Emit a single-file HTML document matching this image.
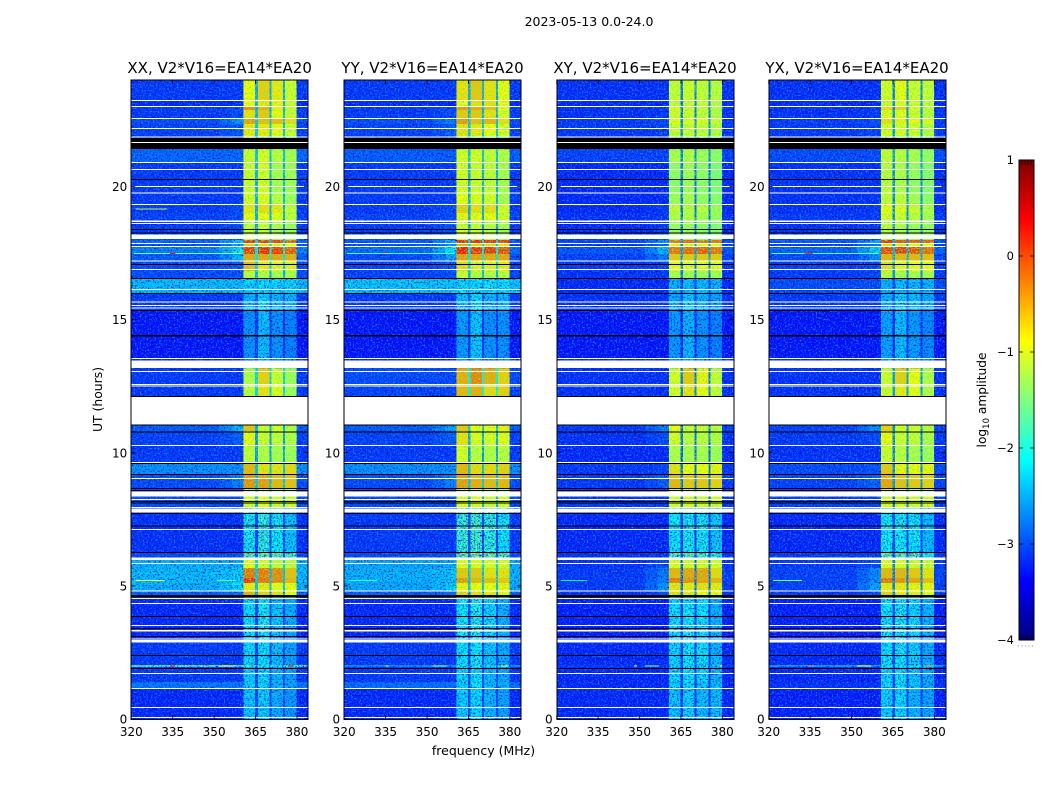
<!DOCTYPE html>
<html lang="en">
<head>
<meta charset="utf-8">
<title>2023-05-13 0.0-24.0</title>
<style>
html,body{margin:0;padding:0;background:#fff;}
#figure{display:block;width:1050px;height:800px;font-family:"DejaVu Sans","Liberation Sans",sans-serif;}
</style>
</head>
<body>
<svg id="figure" xmlns="http://www.w3.org/2000/svg" width="1050" height="800" viewBox="0 0 1050 800">
<defs>
<filter id="speckle" x="0" y="0" width="100%" height="100%" color-interpolation-filters="sRGB">
<feTurbulence type="fractalNoise" baseFrequency="0.62" numOctaves="2" seed="4" result="n"/>
<feColorMatrix in="n" type="matrix" values="0 0 0 0 0.12  0 0 0 0 0.55  0 0 0 0 1  3.4 0 0 0 -1.7" result="light"/>
<feColorMatrix in="n" type="matrix" values="0 0 0 0 0  0 0 0 0 0  0 0 0 0 0.72  0 3.4 0 0 -1.7" result="dark"/>
<feMerge><feMergeNode in="dark"/><feMergeNode in="light"/></feMerge>
</filter>
<filter id="speckle-soft" x="0" y="0" width="100%" height="100%" color-interpolation-filters="sRGB">
<feTurbulence type="fractalNoise" baseFrequency="0.62" numOctaves="2" seed="9"/>
<feColorMatrix type="matrix" values="0 0 0 0 0.4  0 0 0 0 0.95  0 0 0 0 0.35  3 0 0 0 -1.35"/>
</filter>
</defs>
<text x="589" y="26" font-size="12.5" text-anchor="middle" fill="#000">2023-05-13 0.0-24.0</text>
<text x="483.5" y="755" font-size="12.5" text-anchor="middle" fill="#000">frequency (MHz)</text>
<text transform="translate(102,399.5) rotate(-90)" font-size="12.4" text-anchor="middle" fill="#000">UT (hours)</text>
<text transform="translate(986,400) rotate(-90)" font-size="12.2" text-anchor="middle" fill="#000">log<tspan font-size="8.5" dy="3">10</tspan><tspan dy="-3"> amplitude</tspan></text>
<g id="panels"></g>
<g id="colorbar"></g>
</svg>
<script>
// ---- Chart data (UT hours, MHz, log10 amplitude) ----
const panelTitles = ["XX, V2*V16=EA14*EA20","YY, V2*V16=EA14*EA20","XY, V2*V16=EA14*EA20","YX, V2*V16=EA14*EA20"];
const xTickLabels = [320,335,350,365,380];
const yTickLabels = [0,5,10,15,20];
const colorTickLabels = [-4,-3,-2,-1,0,1];
const freqEdges = [320,352,356.5,360.6,364.8,365.8,370,370.7,375,375.7,379.9,384];
const bandTops = [24,23.23,23,22.87,22.55,22.34,21.85,21.4,20.92,19.76,19.3,19,18.66,18.21,17.99,17.87,17.72,17.46,17.2,16.82,16.56,16,15.36,13.56,13.18,12.58,12.13,11.04,10.81,10.29,9.61,9.2,8.67,7.92,6.27,6.07,5.67,5.29,5.11,4.81,4.54,3.12,2.03,1.95,1.39,1.13];
// each row: background, shoulder, window 1-4, window gap
const valuesXX = [
[-3.1,-3.1,-.85,-.6,-.75,-1.05,-2.6],[-3.2,-3.2,-.9,-.75,-.8,-1.05,-2.6],[-3.1,-3,-.25,-.45,-.8,-1.05,-2.6],[-3.1,-3,-.7,-.55,-.85,-1.05,-2.6],
[-3,-2.6,-.35,-.5,-.5,-.7,-2.5],[-3.05,-2.9,-.75,-.75,-.85,-1.05,-2.5],[-3.4,-3.4,-1.6,-1.7,-1.8,-1.9,-3],[-2.85,-2.85,-1.05,-1,-1.15,-1.25,-2.5],
[-3.1,-3.1,-1.05,-1,-1.25,-1.3,-2.6],[-3.1,-3.1,-1,-.95,-1.15,-1.3,-2.6],[-3.1,-3,-.75,-.7,-.75,-1.1,-2.6],[-3.05,-3,-.85,-.85,-.9,-1.1,-2.6],
[-3.1,-3,-1.1,-1.1,-1.2,-1.3,-2.7],[-3,-2.8,-1.1,-1.1,-1.2,-1.3,-2.7],[-2.8,-2.3,.2,.2,.15,.05,-2.4],[-3,-2.5,-.6,-.7,-.8,-.9,-2.4],
[-2.7,-2.1,.15,.25,.15,0,-2.3],[-2.9,-2.4,-.35,-.35,-.35,-.4,-2.3],[-3,-2.9,-.5,-.75,-.8,-.8,-2.4],[-3,-3,-1.15,-1.2,-1.25,-1.25,-2.6],
[-2.35,-2.35,-2.2,-2.15,-2.2,-2.2,-2.4],[-3.1,-3.1,-2.4,-2.2,-2.4,-2.4,-2.9],[-3.3,-3.3,-2.6,-2.35,-2.6,-2.7,-3.1],[-3.2,-3.2,-2.6,-2.4,-2.6,-2.7,-3.1],
[-3.1,-3.1,-1.2,-.6,-1.05,-1.3,-2.4],[-3.1,-3.1,-1.15,-.7,-.95,-1.3,-2.4],[-3.1,-3.1,-1.2,-.8,-1,-1.3,-2.4],[-2.9,-2.4,-.5,-1.1,-1,-1.2,-2.6],
[-3.05,-2.9,-.85,-1.05,-1.1,-1.2,-2.7],[-3.1,-3.1,-1.1,-1.2,-1.25,-1.3,-2.7],[-2.6,-2.6,-.45,-.7,-.7,-.65,-2.5],[-3,-2.7,-.25,-.3,-.45,-.5,-2.5],
[-3,-3,-1,-.9,-1,-1,-2.6],[-3.15,-3.15,-2.05,-1.9,-2.1,-2.3,-3],[-3,-3,-1.7,-1.6,-1.7,-1.8,-2.8],[-2.4,-2.4,-.9,-1,-1.1,-1.1,-2.4],
[-2.35,-2.25,-.1,-.15,-.2,-.5,-2.5],[-2.35,-2.25,.2,-.1,-.2,-.45,-2.5],[-2.4,-2.2,-.75,-.75,-.9,-.85,-2.5],[-2.9,-2.8,-.4,-.6,-.7,-.85,-2.8],
[-3.2,-3.2,-2.15,-2.05,-2.3,-2.45,-3],[-3.1,-3.1,-2.2,-2.15,-2.35,-2.5,-3],[-1.7,-1.7,-1.8,-2,-2,-1.7,-2],[-3.1,-3.1,-2.25,-2.2,-2.4,-2.5,-3],
[-2.75,-2.75,-2.25,-2.2,-2.4,-2.5,-3],[-3.2,-3.2,-2.3,-2.25,-2.45,-2.55,-3]];
const valuesYY = [
[-3.1,-3.1,-.7,-.55,-.7,-.85,-2.6],[-3.2,-3.2,-.85,-.7,-.7,-.9,-2.6],[-3.1,-3,-.3,-.4,-.5,-.9,-2.6],[-3.1,-3,-.55,-.55,-.7,-1,-2.6],
[-3,-2.7,-.3,-.5,-.45,-.7,-2.5],[-3.05,-2.9,-.7,-.75,-.85,-1,-2.5],[-3.4,-3.4,-1.6,-1.7,-1.8,-1.9,-3],[-2.9,-2.9,-1,-1,-1.1,-1.2,-2.5],
[-3.1,-3.1,-1,-1.05,-1.1,-1.25,-2.6],[-3.1,-3.1,-.9,-.95,-1,-1.25,-2.6],[-3.1,-3,-.6,-.7,-.7,-1,-2.6],[-3.05,-3,-.8,-.85,-.85,-1.05,-2.6],
[-3.1,-3,-1,-1.1,-1.15,-1.25,-2.7],[-3,-2.8,-1,-1.1,-1.15,-1.25,-2.7],[-2.9,-2.4,.3,.25,.2,.2,-2.4],[-3,-2.6,-.4,-.6,-.65,-.7,-2.4],
[-2.8,-2.15,.3,.2,.2,.1,-2.3],[-3,-2.5,-.3,-.35,-.35,-.35,-2.3],[-3.05,-2.9,-.65,-.8,-.8,-.75,-2.4],[-3.05,-3,-1.05,-1.2,-1.2,-1.15,-2.6],
[-2.3,-2.3,-2.15,-2.15,-2.15,-2.15,-2.4],[-3.1,-3.1,-2.35,-2.2,-2.4,-2.4,-2.9],[-3.3,-3.3,-2.55,-2.3,-2.6,-2.6,-3.1],[-3.2,-3.2,-2.55,-2.4,-2.6,-2.6,-3.1],
[-3,-3,-.4,-.2,-.4,-.6,-2.2],[-3.05,-3.05,-.45,-.4,-.65,-.6,-2.2],[-3.1,-3.1,-.6,-.5,-.7,-.7,-2.3],[-2.9,-2.5,-.55,-.9,-.9,-.8,-2.5],
[-3.05,-2.9,-.7,-.95,-1,-.95,-2.6],[-3.1,-3.1,-1,-1.15,-1.2,-1.15,-2.7],[-2.6,-2.6,-.45,-.65,-.65,-.6,-2.5],[-3,-2.7,-.3,-.4,-.45,-.45,-2.5],
[-3,-3,-.95,-.9,-1,-1,-2.6],[-3.1,-3.1,-1.85,-1.8,-1.9,-2.1,-3],[-3,-3,-1.6,-1.5,-1.6,-1.7,-2.8],[-2.45,-2.45,-.9,-.95,-1,-1,-2.4],
[-2.4,-2.3,-.55,-.55,-.7,-.7,-2.5],[-2.4,-2.3,-.3,-.45,-.5,-.55,-2.5],[-2.45,-2.25,-.8,-.85,-.85,-.8,-2.5],[-2.9,-2.8,-.6,-.7,-.75,-.85,-2.8],
[-3.2,-3.2,-2.1,-2,-2.2,-2.4,-3],[-3.1,-3.1,-2.15,-2.1,-2.3,-2.45,-3],[-2.6,-2.6,-1.9,-2,-2.1,-2.1,-2.6],[-3.1,-3.1,-2.2,-2.15,-2.35,-2.45,-3],
[-2.8,-2.8,-2.2,-2.15,-2.35,-2.45,-3],[-3.2,-3.2,-2.25,-2.2,-2.4,-2.5,-3]];
const valuesXY = [
[-3.15,-3.15,-1.1,-1.05,-1.1,-1.15,-2.9],[-3.2,-3.2,-1.1,-1.1,-1.1,-1.2,-2.9],[-3.15,-3.1,-.95,-1.05,-1.05,-1.15,-2.9],[-3.15,-3.1,-1.05,-1.05,-1.1,-1.2,-2.9],
[-3.1,-3,-.9,-.95,-.95,-1.05,-2.8],[-3.1,-3.05,-1.1,-1.1,-1.1,-1.2,-2.8],[-3.4,-3.4,-1.7,-1.7,-1.8,-1.9,-3.2],[-3.05,-3.05,-1.25,-1.2,-1.3,-1.4,-2.8],
[-3.2,-3.2,-1.4,-1.3,-1.4,-1.5,-2.9],[-3.2,-3.2,-1.3,-1.25,-1.35,-1.45,-2.9],[-3.2,-3.1,-1.1,-1.15,-1.15,-1.3,-2.9],[-3.15,-3.1,-1.2,-1.2,-1.25,-1.35,-2.9],
[-3.2,-3.1,-1.35,-1.3,-1.4,-1.45,-2.9],[-3.1,-3,-1.35,-1.3,-1.4,-1.45,-2.9],[-3,-2.6,-.1,-.05,-.05,-.1,-2.8],[-3.1,-2.8,-.8,-.85,-.85,-.9,-2.8],
[-2.95,-2.4,-.1,-.05,0,-.1,-2.7],[-3.05,-2.7,-.55,-.55,-.55,-.55,-2.7],[-3.1,-3.05,-.85,-.95,-.9,-.9,-2.8],[-3.15,-3.1,-1.25,-1.3,-1.3,-1.3,-2.9],
[-3.2,-3.2,-2.4,-2.35,-2.35,-2.4,-3],[-3.15,-3.15,-2.45,-2.3,-2.4,-2.5,-3],[-3.3,-3.3,-2.55,-2.4,-2.6,-2.7,-3.2],[-3.2,-3.2,-2.55,-2.4,-2.6,-2.7,-3.2],
[-3.15,-3.15,-1,-.55,-.8,-1.1,-2.9],[-3.15,-3.15,-1,-.7,-.85,-1.1,-2.9],[-3.1,-3.1,-1,-.8,-.9,-1.1,-2.9],[-3.1,-2.7,-.85,-1.1,-1.05,-1.15,-2.9],
[-3.15,-3,-1,-1.15,-1.15,-1.2,-2.9],[-3.2,-3.2,-1.2,-1.25,-1.25,-1.3,-3],[-3.1,-3.05,-.7,-.85,-.85,-.8,-2.9],[-3.1,-2.9,-.45,-.55,-.55,-.6,-2.9],
[-3.1,-3.1,-1,-.95,-1,-1,-3],[-3.2,-3.2,-2.1,-2.05,-2.05,-2.3,-3.1],[-3.15,-3.15,-1.75,-1.7,-1.75,-2,-3],[-3.15,-3,-.95,-1,-1,-1,-3],
[-3.1,-2.75,-.45,-.35,-.35,-.65,-3],[-3.1,-2.7,-.15,-.25,-.35,-.45,-3],[-3.1,-2.6,-.7,-.75,-.7,-.75,-3],[-3.15,-3,-.7,-.75,-.85,-.9,-3],
[-3.25,-3.25,-2.15,-2.1,-2.15,-2.4,-3.1],[-3.2,-3.2,-2.2,-2.1,-2.15,-2.4,-3.1],[-3.1,-3.1,-2.2,-2.2,-2.2,-2.3,-3],[-3.2,-3.2,-2.2,-2.15,-2.2,-2.4,-3.1],
[-3.2,-3.2,-2.25,-2.2,-2.3,-2.35,-3.1],[-3.2,-3.2,-2.3,-2.25,-2.35,-2.35,-3.1]];
const valuesYX = [
[-3.15,-3.15,-1,-.85,-1.05,-1.1,-2.8],[-3.2,-3.2,-1.05,-.95,-1.05,-1.15,-2.8],[-3.15,-3.1,-.7,-.65,-.95,-1.1,-2.8],[-3.15,-3.1,-.95,-.9,-1.05,-1.15,-2.8],
[-3.1,-3,-.7,-.8,-.85,-.95,-2.7],[-3.1,-3.05,-1,-1,-1.05,-1.15,-2.7],[-3.4,-3.4,-1.7,-1.7,-1.8,-1.9,-3.1],[-3,-3,-1.1,-1.15,-1.25,-1.35,-2.7],
[-3.15,-3.15,-1.15,-1.2,-1.35,-1.45,-2.8],[-3.15,-3.15,-1.1,-1.1,-1.25,-1.4,-2.8],[-3.15,-3.1,-.9,-.95,-1.05,-1.2,-2.8],[-3.1,-3.1,-1,-1.05,-1.15,-1.25,-2.8],
[-3.15,-3.1,-1.15,-1.2,-1.3,-1.35,-2.8],[-3.05,-2.95,-1.15,-1.2,-1.3,-1.35,-2.8],[-2.9,-2.5,.2,.1,.05,0,-2.7],[-3.1,-2.7,-.7,-.75,-.8,-.9,-2.7],
[-2.85,-2.25,.1,.15,.05,-.05,-2.6],[-3,-2.6,-.45,-.45,-.45,-.5,-2.6],[-3.05,-3,-.7,-.85,-.85,-.85,-2.7],[-3.1,-3.05,-1.15,-1.25,-1.25,-1.25,-2.8],
[-3,-3,-2.4,-2.35,-2.35,-2.4,-3],[-3.1,-3.1,-2.4,-2.25,-2.35,-2.45,-2.95],[-3.3,-3.3,-2.5,-2.35,-2.55,-2.65,-3.15],[-3.2,-3.2,-2.5,-2.4,-2.55,-2.65,-3.1],
[-3.15,-3.15,-1.05,-.6,-.85,-1.2,-2.7],[-3.15,-3.15,-1.05,-.75,-.9,-1.2,-2.7],[-3.1,-3.1,-1.05,-.85,-.95,-1.2,-2.7],[-3.05,-2.6,-.6,-1,-1,-1.15,-2.8],
[-3.1,-3,-.85,-1.05,-1.1,-1.2,-2.8],[-3.15,-3.15,-1.05,-1.15,-1.25,-1.3,-2.9],[-3,-2.95,-.55,-.8,-.85,-.8,-2.8],[-3.05,-2.85,-.35,-.5,-.55,-.6,-2.8],
[-3.05,-3.05,-.95,-.95,-1,-1,-2.9],[-3.2,-3.2,-2.05,-2.05,-2.1,-2.35,-3],[-3.1,-3.1,-1.65,-1.65,-1.75,-1.95,-2.9],[-3.1,-3,-.95,-1,-1.05,-1.05,-2.9],
[-3.05,-2.65,-.45,-.45,-.55,-.7,-2.9],[-3.05,-2.6,-.1,-.25,-.35,-.5,-2.9],[-3.05,-2.5,-.75,-.75,-.8,-.8,-2.9],[-3.1,-3,-.6,-.75,-.8,-.9,-2.9],
[-3.25,-3.25,-2.1,-2.05,-2.2,-2.4,-3.05],[-3.2,-3.2,-2.15,-2.1,-2.25,-2.45,-3.05],[-2.5,-2.5,-2,-2.1,-2.1,-1.9,-2.6],[-3.2,-3.2,-2.2,-2.15,-2.3,-2.45,-3.05],
[-3.15,-3.15,-2.2,-2.15,-2.3,-2.45,-3.05],[-3.25,-3.25,-2.25,-2.2,-2.4,-2.5,-3.05]];
const panelValues = [valuesXX,valuesYY,valuesXY,valuesYX];
// which value of a row each frequency segment shows (7 = halfway from background to shoulder)
const segmentColumn = [0,7,1,2,6,3,6,4,6,5,0];
// narrow interference: UT, start MHz, end MHz, log10 amplitude
const rfiXX = [[19.15,321.5,333,-1.2],[17.48,321,360,-1.55],[17.48,334,336,.3],[5.2,321.5,332,-1],[5.2,351,358,-1.7],[1.99,334,336,.35],[1.99,347,348,-.2],[1.99,352,357,-.7],[1.99,377,379,.3]];
const rfiYY = [[17.48,321,360,-1.8],[17.48,334,336,-.6],[5.2,321.5,332,-1.9],[1.99,335,336,-.9],[1.99,352,357,-1.4],[1.99,377,379,-.9]];
const rfiXY = [[5.2,321.5,331,-2.2],[1.99,352,357,-1.4],[1.99,348,349,-.9],[1.99,379,380,-.9]];
const rfiYX = [[17.48,321,360,-1.7],[17.48,333,336,.1],[5.2,321.5,332,-1.6],[1.99,334,336,-.2],[1.99,352,357,-.9],[1.99,377,379,-.2]];
const panelRfi = [rfiXX,rfiYY,rfiXY,rfiYX];
// flagged integrations, common to all panels
const whiteLinesUT = [23.23,23,22.55,22.18,21.86,21.65,20.9,20.64,20,19.76,19.32,18.61,17.86,17.75,17.2,16.88,16.13,15.66,15.53,15.44,13.54,13.05,12.56,12.5,10.27,9.63,9.03,8.24,7.94,7.12,5.84,4.81,4.53,4.34,3.51,3,1.71,1.15,.43,.06];
const whiteBlocksUT = [[18.72,18.66],[18.2,18.02],[13.46,13.18],[12.11,11.06],[8.54,8.35],[7.91,7.75],[6.07,5.97],[3.34,3.28],[2.97,2.87]];
const blackLinesUT = [20.26,18.38,18.26,17.07,16.54,15.98,15.34,12.11,11.04,10.78,9.6,9.18,8.66,8.58,8.17,8.11,7.72,7.25,6.25,3.85,3.4,3.1,2.38,1.9];
const blackBlocksUT = [[21.82,21.67],[21.63,21.4],[14.42,14.37],[4.66,4.56]];

// ---- Layout and scales ----
const NS = "http://www.w3.org/2000/svg";
const panelLefts = [131.3,344.2,556.7,768.7];
const panelWidth = 176.7;
const axisTop = 80, axisBottom = 719;
const cbX = 1019, cbW = 15, cbTop = 160, cbBottom = 640;
const lineHours = 0.0375;
function xScale(f,p){ return panelLefts[p] + (f-320)/64*panelWidth; }
function yScale(t){ return axisBottom - t/24*(axisBottom-axisTop); }
function cbScale(v){ return cbBottom - (v+4)/5*(cbBottom-cbTop); }
function jet(n){
  n = Math.max(0,Math.min(1,n));
  const c = (a)=>Math.round(255*Math.max(0,Math.min(1,1.5-Math.abs(4*n-a))));
  return "rgb("+c(3)+","+c(2)+","+c(1)+")";
}
function colorScale(v){ return jet((v+4)/5); }
function cellValue(row,col){ return col===7 ? (row[0]+row[1])/2 : row[col]; }
function make(tag,attrs,parent){
  const el = document.createElementNS(NS,tag);
  for(const k in attrs){ el.setAttribute(k,attrs[k]); }
  parent.appendChild(el);
  return el;
}
function band(p,t0,t1,fill,g){
  return make("rect",{x:xScale(320,p),y:yScale(t0),width:panelWidth,height:Math.max(yScale(t1)-yScale(t0),0.5),fill:fill,"shape-rendering":"crispEdges"},g);
}

// ---- Panels ----
const panelsRoot = document.getElementById("panels");
panelTitles.forEach(function(title,p){
  const g = make("g",{},panelsRoot);
  
  

  const heat = make("g",{},g);
  
  
  panelValues[p].forEach(function(row,b){
    const t0 = bandTops[b];
    const t1 = b+1<bandTops.length ? bandTops[b+1] : 0;
    segmentColumn.forEach(function(col,s){
      const x0 = xScale(freqEdges[s],p), x1 = xScale(freqEdges[s+1],p);
      const cell = make("rect",{x:x0,y:yScale(t0),width:x1-x0,height:yScale(t1)-yScale(t0),fill:colorScale(cellValue(row,col)),"shape-rendering":"crispEdges"},heat);
      
      
    });
    const grain = make("rect",{x:xScale(360.6,p),y:yScale(t0),width:xScale(379.9,p)-xScale(360.6,p),height:yScale(t1)-yScale(t0),filter:row[2] < -1.5 ? "url(#speckle)" : "url(#speckle-soft)"},g);
    
    
  });

  const noiseLeft = make("rect",{x:xScale(320,p),y:axisTop,width:xScale(360.6,p)-xScale(320,p),height:axisBottom-axisTop,filter:"url(#speckle)"},g);
  
  
  const noiseRight = make("rect",{x:xScale(379.9,p),y:axisTop,width:xScale(384,p)-xScale(379.9,p),height:axisBottom-axisTop,filter:"url(#speckle)"},g);
  
  

  panelRfi[p].forEach(function(r){
    const line = make("rect",{x:xScale(r[1],p),y:yScale(r[0])-0.5,width:xScale(r[2],p)-xScale(r[1],p),height:1,fill:colorScale(r[3]),"shape-rendering":"crispEdges"},g);
    
    
  });

  whiteBlocksUT.forEach(function(b){
    const m = band(p,b[0],b[1],"#fff",g);
    
    
  });
  whiteLinesUT.forEach(function(t){
    const m = band(p,t+lineHours/2,t-lineHours/2,"#fff",g);
    
    
  });
  blackBlocksUT.forEach(function(b){
    const m = band(p,b[0],b[1],"#000",g);
    
    
  });
  blackLinesUT.forEach(function(t){
    const m = band(p,t+lineHours/2,t-lineHours/2,"#000",g);
    
    
  });

  const frame = make("rect",{x:Math.round(xScale(320,p)),y:axisTop,width:Math.round(panelWidth),height:axisBottom-axisTop+0.5,fill:"none",stroke:"#000","stroke-width":1},g);
  
  

  const left = xScale(320,p), right = xScale(384,p);
  xTickLabels.forEach(function(f){
    const x = xScale(f,p);
    const tick = make("path",{d:"M"+x+" "+axisBottom+"v-4M"+x+" "+axisTop+"v4",stroke:"#000","stroke-width":0.8,fill:"none"},g);
    
    
    const label = make("text",{x:x,y:736,"font-size":12,"text-anchor":"middle",fill:"#000"},g);
    label.textContent = f;
    
    
  });
  yTickLabels.forEach(function(t){
    const y = yScale(t);
    const tick = make("path",{d:"M"+left+" "+y+"h4M"+right+" "+y+"h-4",stroke:"#000","stroke-width":0.8,fill:"none"},g);
    
    
    const label = make("text",{x:left-4,y:y+4.5,"font-size":12,"text-anchor":"end",fill:"#000"},g);
    label.textContent = t;
    
    
  });
  const head = make("text",{x:(left+right)/2,y:73,"font-size":15,"text-anchor":"middle",fill:"#000"},g);
  head.textContent = title;
  
  
});

// ---- Colorbar ----
const cbRoot = document.getElementById("colorbar");
for(let i=0;i<256;i++){
  const v0 = -4 + 5*i/256, v1 = -4 + 5*(i+1)/256;
  const s = make("rect",{x:cbX,y:cbScale(v1),width:cbW,height:cbScale(v0)-cbScale(v1)+0.5,fill:jet((i+0.5)/256),"shape-rendering":"crispEdges"},cbRoot);
  
  
}
const cbFrame = make("rect",{x:cbX,y:cbTop,width:cbW,height:cbBottom-cbTop,fill:"none",stroke:"#000","stroke-width":1},cbRoot);


colorTickLabels.forEach(function(v){
  const y = cbScale(v);
  const tick = make("path",{d:"M"+cbX+" "+y+"h4M"+(cbX+cbW)+" "+y+"h-4",stroke:"#000","stroke-width":0.8,fill:"none"},cbRoot);
  
  
  const label = make("text",{x:cbX-5,y:y+4,"font-size":11.5,"text-anchor":"end",fill:"#000"},cbRoot);
  label.textContent = String(v).replace("-","\u2212");
  
  
});
const cbMinor = make("path",{d:"M1022 160v5M1025 160v5M1028 160v5M1031 160v5M1022 640v-5M1025 640v-5M1028 640v-5M1031 640v-5",stroke:"#000","stroke-width":0.7,fill:"none"},cbRoot);


const cbDots = make("path",{d:"M1018 646H1035",stroke:"#888","stroke-width":1,"stroke-dasharray":"1 2.5",fill:"none"},cbRoot);


</script>
</body>
</html>
